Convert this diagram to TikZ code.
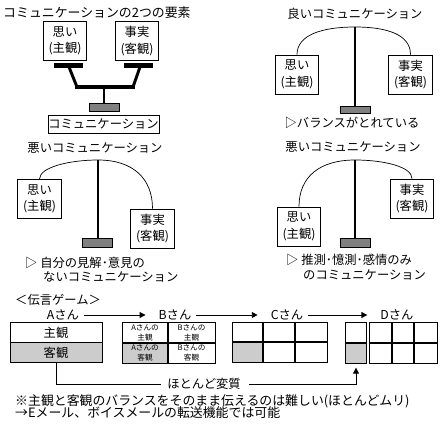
\documentclass[tikz,border=0pt]{standalone}
\usepackage{fontspec}
\setmainfont{Noto Sans CJK JP}
\usetikzlibrary{arrows.meta}

\tikzset{
  words/.style={text=black,inner sep=0pt,font=\fontsize{10.5}{12}\selectfont},
  opinion/.style={draw=black,line width=0.8pt,fill=white,align=center,inner sep=0pt,
    minimum width=1.3cm,minimum height=1.17cm,font=\fontsize{10.5}{14}\selectfont},
  weight/.style={draw=black,line width=0.8pt,fill=black!50},
  pole/.style={line width=2.5pt,black},
  beam/.style={line width=4pt,black},
  string/.style={line width=0.6pt,black},
  pass/.style={arrows={-Triangle[length=5pt,width=5pt]},line width=0.8pt,black,
    shorten <=4pt,shorten >=11pt},
  half/.style={draw=black,line width=0.8pt,inner sep=0pt,minimum width=2.76cm,
    minimum height=0.59cm,font=\fontsize{10.5}{12}\selectfont},
  shade/.style={fill=black!20},
  rim/.style={line width=0.8pt,black},
  seam/.style={line width=1.6pt,black},
  tiny/.style={text=black,inner sep=0pt,align=center,font=\fontsize{6.5}{8.5}\selectfont}
}

\begin{document}
\begin{tikzpicture}[x=0.03cm,y=-0.03cm]
\useasboundingbox (0,0) rectangle (446,425);

% the two elements:
\node[words,anchor=west,font=\fontsize{11}{12}\selectfont] (title1) at (3,13) {コミュニケーションの2つの要素};
\node[opinion] (omoi1) at (65,41) {思い\\(主観)};
\node[opinion] (jijitsu1) at (137,41) {事実\\(客観)};
\draw[beam] (54,65.5) -- (83,65.5);
\draw[beam] (124,65.5) -- (153,65.5);
\draw[pole] (69,67) -- (77,87);
\draw[pole] (140,67) -- (133,87);
\draw[beam] (75,87) -- (135,87);
\draw[pole] (104,87) -- (104,103);
\draw[weight] (89,103) rectangle (119,111);
\node[opinion,minimum width=3.33cm,minimum height=0.54cm] (comm) at (103.5,124) {コミュニケーション};

% good:
\node[words] (title2) at (355,14) {良いコミュニケーション};
\node[opinion] (omoi2) at (297,74.5) {思い\\(主観)};
\node[opinion] (jijitsu2) at (410.5,74.5) {事実\\(客観)};
\coordinate (top2) at (355,27);
\draw[string] (omoi2.north) .. controls +(0,-20) and +(-32,0) .. (top2)
  .. controls +(32,0) and +(0,-20) .. (jijitsu2.north);
\draw[pole] (top2) -- (355,106);
\draw[weight] (340,106) rectangle (370,113);
\node[words] (note2) at (352,123) {▷バランスがとれている};

% bad, left:
\node[words] (title3) at (95,148) {悪いコミュニケーション};
\node[opinion] (omoi3) at (39.5,199) {思い\\(主観)};
\node[opinion] (jijitsu3) at (152.5,228.5) {事実\\(客観)};
\coordinate (top3) at (98,160);
\draw[string] (omoi3.north) .. controls +(0,-12) and +(-28,0) .. (top3)
  .. controls +(35,0) and +(0,-30) .. (jijitsu3.north);
\draw[pole] (top3) -- (98,238);
\draw[weight] (82,238) rectangle (112,247);
\node[words,anchor=west] (note3a) at (25,263) {▷ 自分の見解･意見の};
\node[words,anchor=west] (note3b) at (43,277) {ないコミュニケーション};

% bad, right:
\node[words] (title4) at (353,147) {悪いコミュニケーション};
\node[opinion] (omoi4) at (299,226.5) {思い\\(主観)};
\node[opinion] (jijitsu4) at (412,198.5) {事実\\(客観)};
\coordinate (top4) at (355,160);
\draw[string] (omoi4.north) .. controls +(0,-30) and +(-35,0) .. (top4)
  .. controls +(28,0) and +(0,-12) .. (jijitsu4.north);
\draw[pole] (top4) -- (355,238);
\draw[weight] (340,238) rectangle (370,247);
\node[words,anchor=west] (note4a) at (286,260) {▷ 推測･憶測･感情のみ};
\node[words,anchor=west] (note4b) at (303,275) {のコミュニケーション};

% message game:
\node[words,anchor=west] (game) at (15,300) {＜伝言ゲーム＞};
\node[words] (pa) at (63,315) {Aさん};
\node[words] (pb) at (175,315) {Bさん};
\node[words] (pc) at (287,315) {Cさん};
\node[words] (pd) at (397,315) {Dさん};
\draw[pass] (pa) -- (pb);
\draw[pass] (pb) -- (pc);
\draw[pass] (pc) -- (pd);

\node[half] (subj) at (56,332.8) {主観};
\node[half,shade] (obj) at (56,352.5) {客観};

\fill[shade] (122,343) rectangle (168,363);
\draw[rim] (122,322) rectangle (215,363);
\draw[seam] (168,322) -- (168,363);
\draw[seam] (122,343) -- (215,343);
\node[tiny] (ba) at (145,332.5) {Aさんの\\主観};
\node[tiny] (bb) at (191.5,332.5) {Bさんの\\主観};
\node[tiny] (bc) at (145,353) {Aさんの\\客観};
\node[tiny] (bd) at (191.5,353) {Bさんの\\客観};

\fill[shade] (232,342) rectangle (263,362);
\draw[rim] (232,322) rectangle (327,362);
\draw[seam] (263,322) -- (263,362);
\draw[seam] (295,322) -- (295,362);
\draw[seam] (232,342) -- (327,342);

\fill[shade] (345,343) rectangle (366,363);
\draw[rim] (345,322) rectangle (366,363);
\draw[seam] (345,343) -- (366,343);
\draw[rim] (369,322) rectangle (437,363);
\draw[seam] (392,322) -- (392,363);
\draw[seam] (414,322) -- (414,363);
\draw[seam] (369,343) -- (437,343);
\coordinate (dgray) at (356,363);

\node[words] (change) at (204,384) {ほとんど変質};
\draw[rim,shorten >=5pt] (obj.south) |- (change.west);
\draw[rim,arrows={-Triangle[length=5pt,width=5pt]},shorten <=7pt,shorten >=4pt] (change.east) -| (dgray);

\node[words,anchor=west,font=\fontsize{11}{12}\selectfont] (rule1) at (15,401) {※主観と客観のバランスをそのまま伝えるのは難しい(ほとんどムリ)};
\node[words,anchor=west,font=\fontsize{11}{12}\selectfont] (rule2) at (15,413) {→Eメール、ボイスメールの転送機能では可能};

\end{tikzpicture}
\end{document}
